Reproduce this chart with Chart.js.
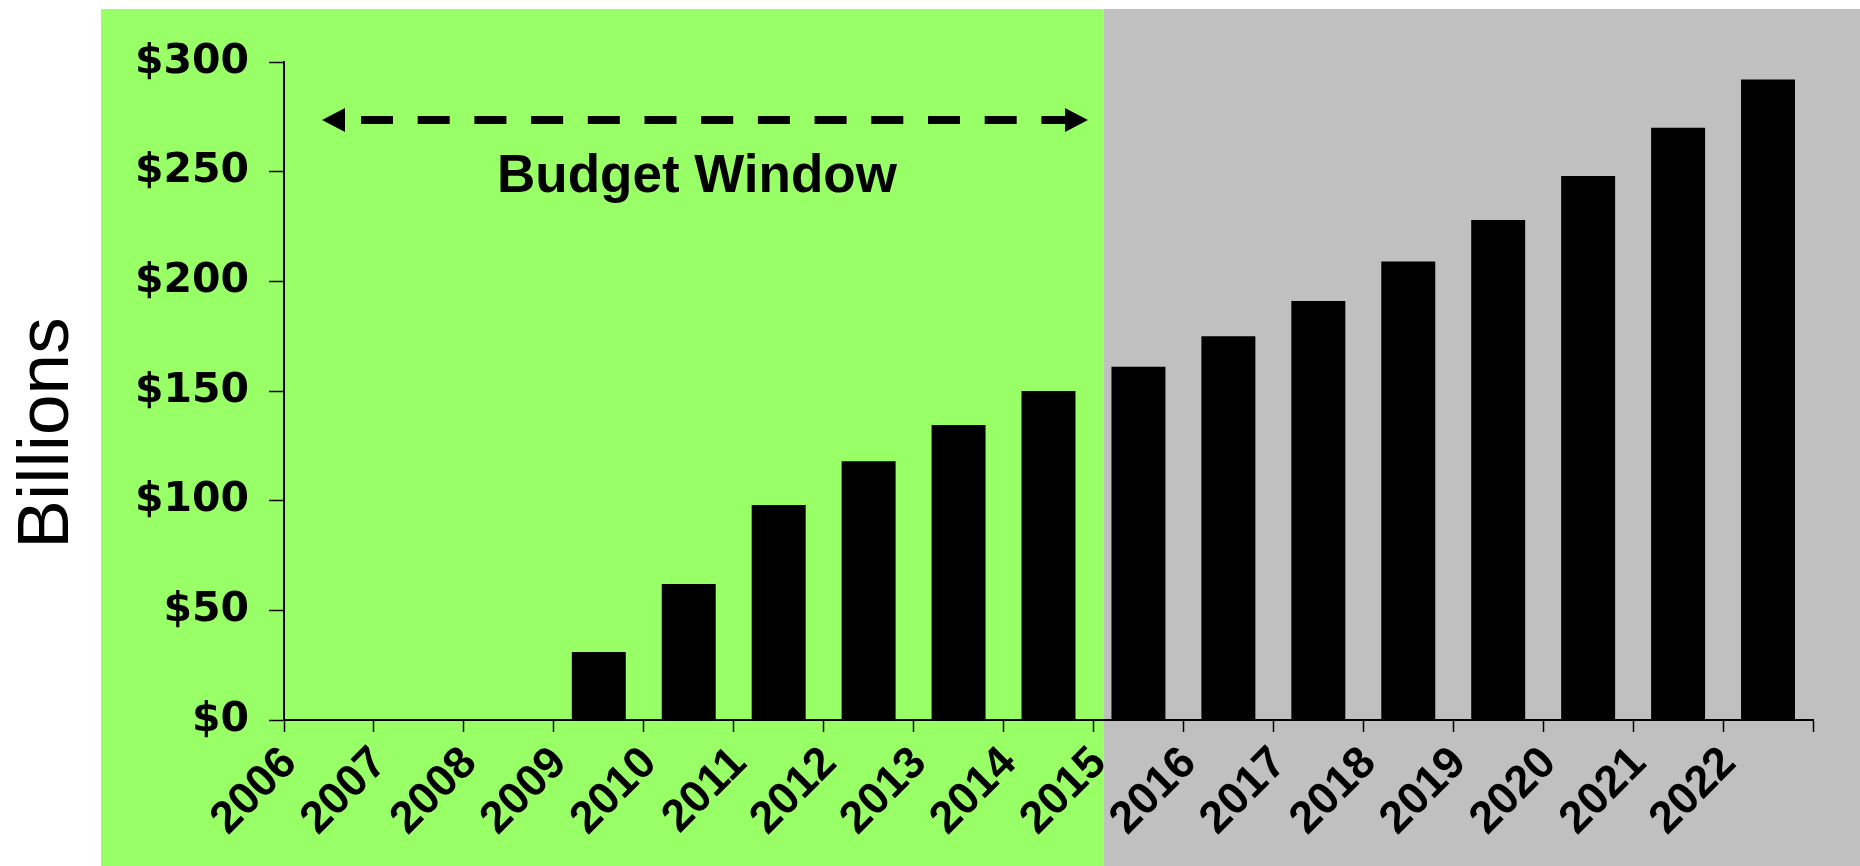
<!DOCTYPE html>
<html>
<head>
<meta charset="utf-8">
<script src="https://cdn.jsdelivr.net/npm/chart.js@4.4.1/dist/chart.umd.min.js"></script>
<style>
  html, body { margin: 0; padding: 0; background: #ffffff; }
  #wrap { width: 1860px; height: 866px; position: relative; }
</style>
</head>
<body>
<div id="wrap"><canvas id="outlayChart"></canvas></div>
<script>
const years = ["2006", "2007", "2008", "2009", "2010", "2011", "2012", "2013", "2014",
  "2015", "2016", "2017", "2018", "2019", "2020", "2021", "2022"];
// billions of dollars per year, nothing before 2009
const outlays = [null, null, null, 31, 62, 98, 118, 134.5, 150,
  161, 175, 191, 209, 228, 248, 270, 292];
const yTicks = [0, 50, 100, 150, 200, 250, 300];

const windowStart = "2006";
const windowEnd = "2015";
const windowLabel = "Budget Window";
const axisTitle = "Billions";

const greenPanel = "#99ff66";
const greyPanel = "#c0c0c0";
const labelFont = '"Liberation Sans", Arial, sans-serif';

// left edge of the band that starts at a given year tick
function tickEdge(scale, year) {
  return scale.getPixelForValue(years.indexOf(year) - 0.5);
}

const panels = {
  id: "panels",
  beforeDraw(chart) {
    const { ctx, width, height } = chart;
    const split = tickEdge(chart.scales.x, windowEnd) + 10;
    ctx.save();
    ctx.fillStyle = "#ffffff";
    ctx.fillRect(0, 0, width, height);
    ctx.fillStyle = greenPanel;
    ctx.fillRect(101, 9, split - 101, height - 9);
    ctx.fillStyle = greyPanel;
    ctx.fillRect(split, 9, width - split, height - 9);
    ctx.restore();
  }
};

const budgetWindow = {
  id: "budgetWindow",
  afterDraw(chart) {
    const { ctx, chartArea } = chart;
    const x = chart.scales.x;
    const left = tickEdge(x, windowStart) + 38;
    const right = tickEdge(x, windowEnd) - 5.5;
    const y = chartArea.top + 58;
    const head = 23, half = 12;

    ctx.save();
    ctx.fillStyle = "#000000";
    ctx.strokeStyle = "#000000";

    // dashed shaft
    ctx.lineWidth = 8;
    ctx.setLineDash([32, 24.7]);
    ctx.beginPath();
    ctx.moveTo(left + head + 16, y);
    ctx.lineTo(right - head + 1, y);
    ctx.stroke();
    ctx.setLineDash([]);

    // arrow heads
    ctx.beginPath();
    ctx.moveTo(left, y);
    ctx.lineTo(left + head, y - half);
    ctx.lineTo(left + head, y + half);
    ctx.closePath();
    ctx.fill();
    ctx.beginPath();
    ctx.moveTo(right, y);
    ctx.lineTo(right - head, y - half);
    ctx.lineTo(right - head, y + half);
    ctx.closePath();
    ctx.fill();

    ctx.font = "bold 53px " + labelFont;
    ctx.textAlign = "center";
    ctx.textBaseline = "alphabetic";
    ctx.fillText(windowLabel, (left + right) / 2 - 8, chartArea.top + 130);

    // vertical unit title
    ctx.translate(68, chart.height / 2);
    ctx.rotate(-Math.PI / 2);
    ctx.font = "73px " + labelFont;
    ctx.fillText(axisTitle, 0, 0);
    ctx.restore();
  }
};

new Chart(document.getElementById("outlayChart"), {
  type: "bar",
  data: {
    labels: years,
    datasets: [{
      data: outlays,
      backgroundColor: "#000000",
      borderWidth: 0,
      barPercentage: 0.6,
      categoryPercentage: 1
    }]
  },
  options: {
    responsive: true,
    maintainAspectRatio: false,
    animation: false,
    layout: { padding: { left: 0, right: 47, top: 62, bottom: 0 } },
    plugins: {
      legend: { display: false },
      tooltip: { enabled: false }
    },
    scales: {
      x: {
        offset: true,
        grid: { offset: true, drawOnChartArea: false, tickLength: 12, tickColor: "#000000", tickWidth: 1.5 },
        border: { color: "#000000", width: 2 },
        ticks: {
          autoSkip: false,
          minRotation: 45,
          maxRotation: 45,
          labelOffset: -39,
          padding: 5,
          color: "#000000",
          font: { family: labelFont, size: 45, weight: "bold" }
        },
        afterFit(s) { s.height = 146; }
      },
      y: {
        min: 0,
        max: 300,
        afterBuildTicks(s) { s.ticks = yTicks.map(v => ({ value: v })); },
        grid: { drawOnChartArea: false, tickLength: 15, tickColor: "#000000", tickWidth: 1.5 },
        border: { color: "#000000", width: 2 },
        ticks: {
          padding: 20,
          color: "#000000",
          font: { family: '"DejaVu Sans", sans-serif', size: 41, weight: "bold" },
          callback: v => "$" + v
        },
        afterFit(s) { s.width = 284; }
      }
    }
  },
  plugins: [panels, budgetWindow]
});
</script>
</body>
</html>
